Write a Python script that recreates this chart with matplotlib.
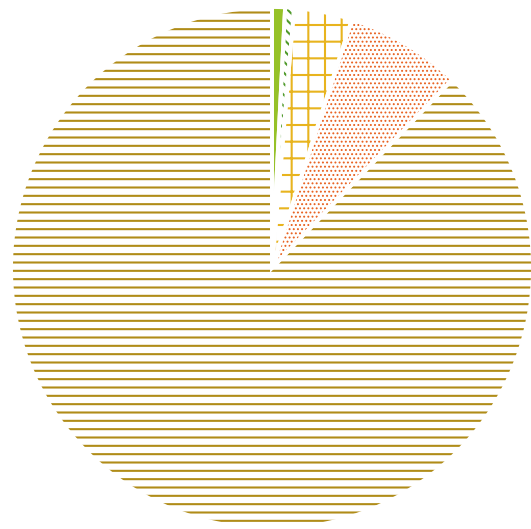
import matplotlib.pyplot as plt

# slices in drawing order, clockwise from 12 o'clock
categories = ["A", "B", "C", "D", "E"]
values = [0.8, 0.55, 3.6, 7.2, 87.85]
face_colors = ["#96c128", "white", "white", "white", "white"]
hatch_colors = ["#96c128", "#4f9a2a", "#e8b41e", "#e8601e", "#b08c18"]
hatches = [None, "\\\\\\", "+", "....", "--"]
hatch_widths = [1.5, 1.5, 1.5, 0.85, 1.5]

plt.rcParams["hatch.linewidth"] = 1.5

fig = plt.figure(figsize=(5.31, 5.29), dpi=100)
# pie centre sits at about (272, 268) px from the top-left, radius ~261 px
ax = fig.add_axes([11 / 531, 0.0, 522 / 531, 522 / 529])

wedges, _ = ax.pie(values, labels=None, colors=face_colors, hatch=hatches,
                   startangle=90, counterclock=False,
                   wedgeprops=dict(linewidth=0))
for w, c, hw in zip(wedges, hatch_colors, hatch_widths):
    w.set_edgecolor(c)
    w.set_linewidth(0)
    if hasattr(w, "set_hatch_linewidth"):
        w.set_hatch_linewidth(hw)

# white separators drawn on top so hatch colour and edge colour can differ
ax.pie(values, startangle=90, counterclock=False,
       wedgeprops=dict(fill=False, edgecolor="white", linewidth=2.8))

ax.set_xlim(-1, 1)
ax.set_ylim(-1, 1)
ax.set_aspect("equal")
ax.axis("off")

fig.savefig("out.png", dpi=100)
